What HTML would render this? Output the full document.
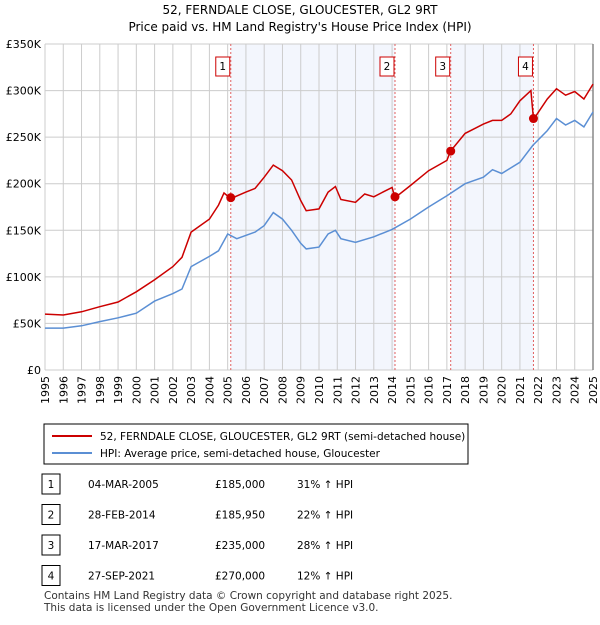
<!DOCTYPE html>
<html><head><meta charset="utf-8"><style>
body{margin:0;background:#fff;font-family:"Liberation Sans","DejaVu Sans",sans-serif;}
svg text{font-family:"DejaVu Sans","Liberation Sans",sans-serif;}
</style></head><body>
<svg width="600" height="620" xmlns="http://www.w3.org/2000/svg">
<text x="300" y="14" text-anchor="middle" font-size="12">52, FERNDALE CLOSE, GLOUCESTER, GL2 9RT</text>
<text x="300" y="31" text-anchor="middle" font-size="12">Price paid vs. HM Land Registry's House Price Index (HPI)</text>
<g id="plot"></g>
<g>
<rect x="44" y="424" width="424" height="40" fill="#fff" stroke="#000" stroke-width="1"/>
<line x1="52" y1="436" x2="92" y2="436" stroke="#cc0000" stroke-width="2"/>
<text x="100" y="440" font-size="10.5">52, FERNDALE CLOSE, GLOUCESTER, GL2 9RT (semi-detached house)</text>
<line x1="52" y1="453" x2="92" y2="453" stroke="#5b8fd4" stroke-width="2"/>
<text x="100" y="457" font-size="10.5">HPI: Average price, semi-detached house, Gloucester</text>
</g>
<g id="table" font-size="10.5"></g>
<text x="44" y="599" font-size="10.5" fill="#333">Contains HM Land Registry data © Crown copyright and database right 2025.</text>
<text x="44" y="611" font-size="10.5" fill="#333">This data is licensed under the Open Government Licence v3.0.</text>
</svg>
<script>
const priceYears=[1995,1996,1997,1998,1999,2000,2001,2002,2002.5,2003,2004,2004.5,2004.8,2005.17,2006,2006.5,2007,2007.5,2008,2008.5,2009,2009.3,2010,2010.5,2010.9,2011.2,2012,2012.5,2013,2013.5,2014,2014.16,2015,2016,2017,2017.2,2018,2019,2019.5,2020,2020.5,2021,2021.6,2021.74,2022.5,2023,2023.5,2024,2024.5,2025];
const priceValues=[60,59,62.5,68,73,84,97,111,121,148,162,177,190,184,191,195,207,220,214,204,182,171,173,191,197,183,180,189,186,191,196,185,198,214,225,235,254,264,268,268,275,289,300,269,291,302,295,299,291,307];
const hpiYears=[1995,1996,1997,1998,1999,2000,2001,2002,2002.5,2003,2004,2004.5,2005,2005.5,2006.5,2007,2007.5,2008,2008.5,2009,2009.3,2010,2010.5,2010.9,2011.2,2012,2013,2014,2015,2016,2017,2018,2019,2019.5,2020,2021,2021.7,2022.5,2023,2023.5,2024,2024.5,2025];
const hpiValues=[45,45,47.5,52,56,61,74,82,87,111,122,128,146,141,148,155,169,162,150,136,130,132,146,150,141,137,143,151,162,175,187,200,207,215,211,223,241,257,270,263,268,261,277];
const saleLabels=["1","2","3","4"];
const saleYears=[2005.17,2014.16,2017.21,2021.74];
const saleValues=[185,185.95,235,270];
const saleDates=["04-MAR-2005","28-FEB-2014","17-MAR-2017","27-SEP-2021"];
const salePrices=["£185,000","£185,950","£235,000","£270,000"];
const saleHpi=["31% ↑ HPI","22% ↑ HPI","28% ↑ HPI","12% ↑ HPI"];
const yTicks=[0,50,100,150,200,250,300,350];
const xTicks=[];for(let y=1995;y<=2025;y++)xTicks.push(y);
const L=45,R=593,T=44,B=370;
const X=v=>L+(v-1995)/30*(R-L);
const Y=v=>B-v/350*(B-T);
const NS="http://www.w3.org/2000/svg";
const plot=document.getElementById('plot');
function mk(tag,attrs,parent){const e=document.createElementNS(NS,tag);for(const k in attrs)e.setAttribute(k,attrs[k]);(parent||plot).appendChild(e);return e;}
for(let i=0;i<saleYears.length-1;i+=2){
 const r=mk('rect',{x:X(saleYears[i]),y:T,width:X(saleYears[i+1])-X(saleYears[i]),height:B-T,fill:'#f3f6fd'});
 
 
}
xTicks.forEach(t=>{
 const l=mk('line',{x1:X(t),x2:X(t),y1:T,y2:B,stroke:'#ccc','stroke-width':1});
 
 
 const tx=mk('text',{x:0,y:0,'font-size':11,'text-anchor':'end',transform:`translate(${X(t)+4},${B+6}) rotate(-90)`});
 tx.textContent=t;
 
 
});
yTicks.forEach(t=>{
 const l=mk('line',{x1:L,x2:R,y1:Y(t),y2:Y(t),stroke:'#ccc','stroke-width':1});
 
 
 const tx=mk('text',{x:L-4,y:Y(t)+4,'font-size':11,'text-anchor':'end'});
 tx.textContent=t===0?'£0':'£'+t+'K';
 
 
});
mk('line',{x1:R,x2:R,y1:T,y2:B,stroke:'#888','stroke-width':1.5});
saleYears.forEach((s,i)=>{
 const l=mk('line',{x1:X(s),x2:X(s),y1:T,y2:B,stroke:'#e06060','stroke-width':1,'stroke-dasharray':'2,2'});
 
 
 const b=mk('rect',{x:X(s)-15,y:57,width:14,height:19,fill:'#fff',stroke:'#cc0000'});
 
 
 const t=mk('text',{x:X(s)-8,y:70,'font-size':10.5,'text-anchor':'middle'});
 t.textContent=saleLabels[i];
 
 
});
function path(xs,vs){return xs.map((x,i)=>(i?'L':'M')+X(x).toFixed(1)+','+Y(vs[i]).toFixed(1)).join('');}
const hl=mk('path',{d:path(hpiYears,hpiValues),fill:'none',stroke:'#5b8fd4','stroke-width':1.5});


const pl=mk('path',{d:path(priceYears,priceValues),fill:'none',stroke:'#cc0000','stroke-width':1.5});


saleYears.forEach((s,i)=>{
 const c=mk('circle',{cx:X(s),cy:Y(saleValues[i]),r:4.5,fill:'#cc0000'});
 
 
});
const tb=document.getElementById('table');
saleYears.forEach((s,i)=>{
 const y0=474+i*30.5;
 const b=mk('rect',{x:42,y:y0,width:18,height:20,fill:'#fff',stroke:'#000'},tb);
 
 
 const cells=[[51,saleLabels[i],'middle'],[88,saleDates[i],'start'],[215,salePrices[i],'start'],[297,saleHpi[i],'start']];
 cells.forEach(c=>{
  const t=mk('text',{x:c[0],y:y0+14,'text-anchor':c[2]},tb);
  t.textContent=c[1];
  
  
 });
});
</script>
</body></html>
